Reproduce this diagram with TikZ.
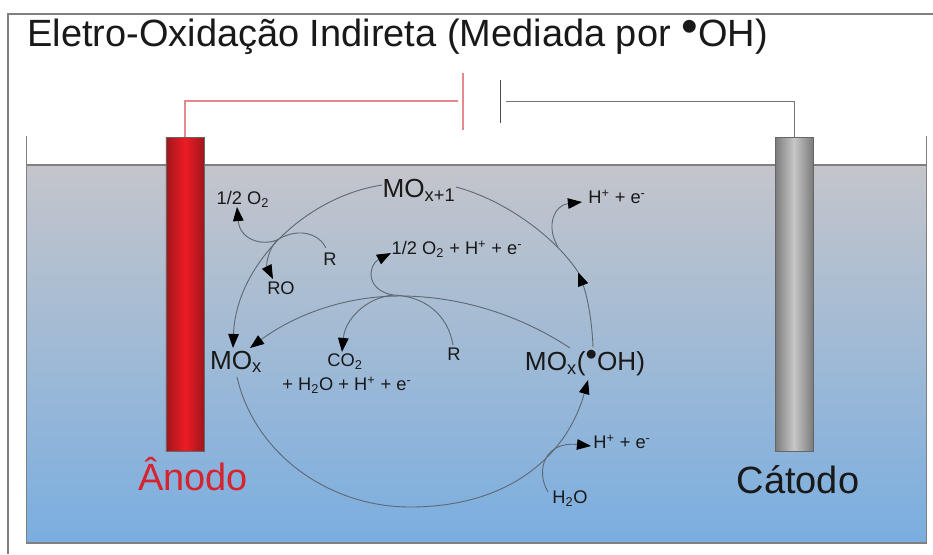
\documentclass[tikz,border=0pt]{standalone}
\usepackage{fontspec}
\setmainfont{Liberation Sans}
\usetikzlibrary{arrows.meta}
\definecolor{linegray}{RGB}{95,105,115}
\definecolor{anodered}{RGB}{215,35,45}
\colorlet{wirepink}{red!40!white!90!black}
\newcommand{\oxbullet}[1]{\raisebox{#1}{\scalebox{1.25}{\textbullet}}}
\tikzset{
  bigtext/.style={font=\fontsize{27}{27}\selectfont,inner sep=0pt,text=black!90},
  midtext/.style={font=\fontsize{18.6}{18}\selectfont,inner sep=0pt,text=black!90},
  smalltext/.style={font=\fontsize{13}{13}\selectfont,inner sep=0pt,text=black!90},
  electrode/.style={rectangle,draw=black!60,minimum width=0.95cm,minimum height=7.85cm,inner sep=0pt},
  flow/.style={draw=linegray,line width=0.65pt},
  flowtip/.style={flow,-{Triangle[length=10pt,width=7.5pt,black]}},
}
\begin{document}
\begin{tikzpicture}[x=0.025cm,y=-0.025cm]
\useasboundingbox (0,0) rectangle (933,554);
% frame
\coordinate (FB) at (8,554);
\coordinate (FC) at (8,14);
\coordinate (FR) at (933,14);
\draw[black!50,line width=0.8pt] (FB) -- (FC) -- (FR);

% bath
\node[rectangle,draw=black!50,line width=0.8pt,top color={rgb,255:red,196;green,197;blue,203},bottom color={rgb,255:red,122;green,174;blue,224},minimum width=22.475cm,minimum height=9.45cm,inner sep=0pt](bath) at (476.5,354){};
\draw[black!50,line width=0.6pt] (bath.north west) -- ++(0,-28);
\draw[black!50,line width=0.6pt] (bath.north east) -- ++(0,-28);

% electrodes
\node[electrode,left color={rgb,255:red,160;green,22;blue,28},right color={rgb,255:red,160;green,22;blue,28},middle color={rgb,255:red,237;green,28;blue,36}](anode) at (185,294.5){};
\node[electrode,left color=black!52,right color=black!52,middle color=black!22](cathode) at (794,294.5){};
\node[bigtext,text=anodered,anchor=base] (AN) at (193,490) {Ânodo};
\node[bigtext,anchor=base] (CA) at (798,493) {Cátodo};

% battery
\coordinate (PT) at (463,73);
\coordinate (PB) at (463,130);
\coordinate (NT) at (500,80);
\coordinate (NB) at (500,123);
\coordinate (PW) at (458,101);
\coordinate (NW) at (506,101);
\draw[draw=wirepink,line width=0.8pt] (anode.north) |- (PW);
\draw[draw=wirepink,line width=0.8pt] (PT) -- (PB);
\draw[black!55,line width=0.7pt] (cathode.north) |- (NW);
\draw[black!70,line width=0.7pt] (NT) -- (NB);

% title
\node[bigtext,anchor=base west] (T) at (27,46) {Eletro-Oxidação Indireta (Mediada por \oxbullet{.08em}OH)};

% species
\node[midtext] (MOx1) at (419,190) {MO\textsubscript{x+1}};
\node[midtext] (MOx) at (236,362) {MO\textsubscript{x}};
\node[midtext] (MOxOH) at (585,363) {MO\textsubscript{x}(\oxbullet{.2em}OH)};
\node[smalltext] (O2L) at (243,199) {1/2 O\textsubscript{2}};
\node[smalltext] (RL) at (330,259) {R};
\node[smalltext] (RO) at (281,288) {RO};
\node[smalltext] (O2C) at (457,249) {1/2 O\textsubscript{2} + H\textsuperscript{+} + e\textsuperscript{-}};
\node[smalltext] (HT) at (617,197) {H\textsuperscript{+} + e\textsuperscript{-}};
\node[smalltext] (CO2) at (345,362) {CO\textsubscript{2}};
\node[smalltext] (PR) at (347,385) {+ H\textsubscript{2}O + H\textsuperscript{+} + e\textsuperscript{-}};
\node[smalltext] (RC) at (454,354) {R};
\node[smalltext] (HB) at (622,442) {H\textsuperscript{+} + e\textsuperscript{-}};
\node[smalltext] (H2O) at (570,499) {H\textsubscript{2}O};

% points on the cycle
\coordinate (A1) at (382,185);
\coordinate (A2) at (233,348);
\coordinate (B1) at (593,347);
\coordinate (B2) at (578,272);
\coordinate (B3) at (456,187);
\coordinate (C1) at (570,348);
\coordinate (C2) at (400,296);
\coordinate (C3) at (250,348);
\coordinate (D1) at (237,377);
\coordinate (D2) at (410,507);
\coordinate (D3) at (588,380);

% cycle
\draw[flowtip] (A1) .. controls (305,197) and (236,265) .. (A2);
\draw[flowtip] (B1) .. controls (592,320) and (587,295) .. (B2);
\draw[flow] (B2) .. controls (555,237) and (505,200) .. (B3);
\draw[flowtip] (C1) .. controls (520,315) and (460,296) .. (C2) .. controls (340,296) and (290,318) .. (C3);
\draw[flowtip] (D1) .. controls (255,455) and (330,507) .. (D2) .. controls (510,507) and (567,455) .. (D3);

% side reactions
\coordinate (JL) at (277,240);
\coordinate (JC) at (393,295);
\coordinate (RLe) at (326,248);
\coordinate (O2Le) at (237,207);
\coordinate (ROe) at (273,279);
\coordinate (RCe) at (453,345);
\coordinate (O2Ce) at (391,253);
\coordinate (CO2e) at (342,352);
\coordinate (H2Oe) at (548,492);
\coordinate (HBe) at (591,446);
\coordinate (HTs) at (558,247);
\coordinate (HTe) at (582,202);
\draw[flow] (RLe) .. controls (320,235) and (300,226) .. (JL);
\draw[flowtip] (JL) .. controls (262,246) and (240,240) .. (O2Le);
\draw[flowtip] (JL) .. controls (268,250) and (266,265) .. (ROe);
\draw[flow] (RCe) .. controls (448,315) and (425,296) .. (JC);
\draw[flowtip] (JC) .. controls (365,290) and (368,265) .. (O2Ce);
\draw[flowtip] (JC) .. controls (365,298) and (345,320) .. (CO2e);
\draw[flowtip] (H2Oe) .. controls (535,470) and (545,441) .. (HBe);
\draw[flowtip] (HTs) .. controls (545,225) and (555,205) .. (HTe);
\end{tikzpicture}
\end{document}
